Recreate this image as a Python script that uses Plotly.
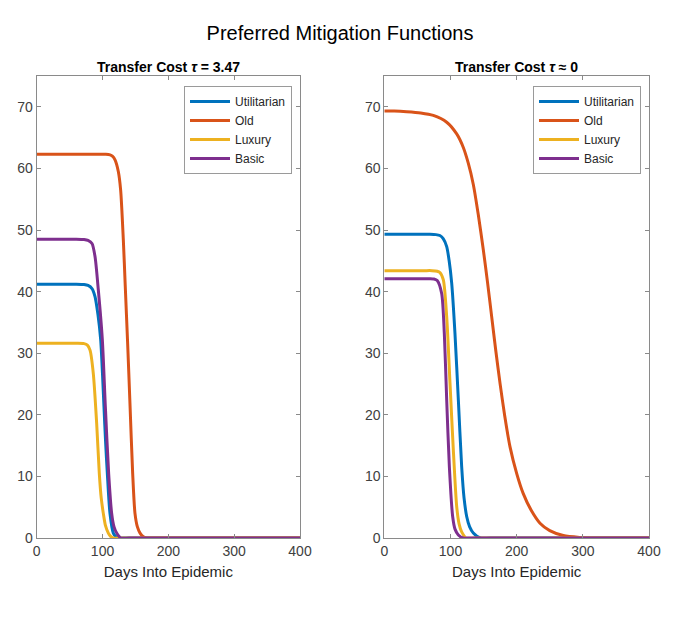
import plotly.graph_objects as go

# ---------------- data ----------------
series_names = ["Utilitarian", "Old", "Luxury", "Basic"]
series_colors = ["#0072BD", "#D95319", "#EDB120", "#7E2F8E"]

# Left panel: Transfer cost tau = 3.47
left_util_days = [0, 30, 60, 72, 78, 84, 88.6, 93, 97.2, 100, 102.2, 104.7, 107.3, 111.3, 116.4, 120, 124, 135, 200, 300, 400]
left_util_vals = [41.2, 41.2, 41.2, 41.15, 41.0, 40.5, 39.2, 36.3, 32.2, 26.5, 21.3, 15.5, 10.5, 4.0, 0.8, 0.25, 0, 0, 0, 0, 0]

left_old_days = [0, 40, 80, 105, 111.5, 115, 119, 124, 127.5, 131.6, 134.5, 138.2, 141.7, 145.8, 149.3, 153, 157, 162, 167, 180, 250, 320, 400]
left_old_vals = [62.3, 62.3, 62.3, 62.3, 62.2, 62.0, 61.4, 59.5, 56.5, 48.4, 41.0, 31.5, 21.8, 10.5, 4.0, 1.8, 0.8, 0.2, 0, 0, 0, 0, 0]

left_lux_days = [0, 30, 60, 72, 77, 81, 86, 91.1, 95.1, 98, 101.2, 104.5, 108.8, 112, 116, 128, 200, 300, 400]
left_lux_vals = [31.6, 31.6, 31.6, 31.55, 31.3, 30.5, 26.7, 18.6, 10.5, 6.5, 4.0, 2.0, 0.8, 0.3, 0, 0, 0, 0, 0]

left_basic_days = [0, 30, 60, 72, 78, 84, 88.6, 93.6, 99.7, 104.3, 109.3, 113.9, 117.5, 121.5, 128, 140, 200, 300, 400]
left_basic_vals = [48.5, 48.5, 48.5, 48.45, 48.3, 47.8, 45.7, 40.3, 32.2, 21.3, 10.5, 4.0, 1.8, 0.8, 0, 0, 0, 0, 0]

# Right panel: Transfer cost tau ~ 0
right_util_days = [0, 30, 55, 69, 78, 84, 89, 94.3, 98, 101.8, 106.8, 111.9, 116.9, 120.5, 124.5, 129, 134.5, 145, 160, 250, 330, 400]
right_util_vals = [49.3, 49.3, 49.3, 49.3, 49.25, 49.1, 48.6, 47.3, 45.0, 41.4, 33.2, 22.4, 11.6, 6.5, 3.5, 1.8, 0.8, 0, 0, 0, 0, 0]

right_old_days = [0, 15, 33.8, 55, 74, 94.3, 109.4, 119.4, 127, 134.5, 142, 149.6, 156, 162.3, 168.5, 174.9, 182, 190, 200, 210, 222, 235.3, 250, 270.5, 295, 320, 345, 370, 400]
right_old_vals = [69.3, 69.3, 69.2, 69.0, 68.6, 67.5, 65.6, 63.4, 60.8, 57.4, 52.5, 46.8, 41.5, 35.9, 30.4, 25.1, 19.8, 14.8, 10.5, 7.2, 4.5, 2.4, 1.2, 0.4, 0.1, 0, 0, 0, 0]

right_lux_days = [0, 30, 60, 72, 80, 84, 89.2, 94.3, 99.3, 104.3, 109.4, 113, 116.9, 124, 135, 200, 300, 400]
right_lux_vals = [43.4, 43.4, 43.4, 43.4, 43.3, 43.1, 41.9, 35.9, 25.1, 14.3, 5.1, 2.3, 1.0, 0, 0, 0, 0, 0]

right_basic_days = [0, 30, 55, 69, 75, 80, 86.7, 90.7, 94.3, 98.3, 103.3, 107, 111.9, 119, 130, 200, 300, 400]
right_basic_vals = [42.1, 42.1, 42.1, 42.1, 42.05, 41.8, 39.7, 33.2, 22.4, 11.6, 3.5, 1.4, 0.5, 0, 0, 0, 0, 0]

x_ticks = [0, 100, 200, 300, 400]
y_ticks = [0, 10, 20, 30, 40, 50, 60, 70]

main_title = "Preferred Mitigation Functions"
left_title = "<b>Transfer Cost <i>τ</i> = 3.47</b>"
right_title = "<b>Transfer Cost <i>τ</i> ≈ 0</b>"
x_title = "Days Into Epidemic"

# ---------------- figure ----------------
W, H = 680, 623
fig = go.Figure()

left_data = [(left_util_days, left_util_vals), (left_old_days, left_old_vals),
             (left_lux_days, left_lux_vals), (left_basic_days, left_basic_vals)]
right_data = [(right_util_days, right_util_vals), (right_old_days, right_old_vals),
              (right_lux_days, right_lux_vals), (right_basic_days, right_basic_vals)]

for (xs, ys), name, col in zip(left_data, series_names, series_colors):
    fig.add_trace(go.Scatter(x=xs, y=ys, mode="lines", name=name,
                             line=dict(color=col, width=3, shape="spline", smoothing=0.7),
                             xaxis="x", yaxis="y", legend="legend"))
for (xs, ys), name, col in zip(right_data, series_names, series_colors):
    fig.add_trace(go.Scatter(x=xs, y=ys, mode="lines", name=name,
                             line=dict(color=col, width=3, shape="spline", smoothing=0.7),
                             xaxis="x2", yaxis="y2", legend="legend2"))

axis_line = "#8a8a8a"
font_family = "Liberation Sans, Arial, sans-serif"
tick_font = dict(family=font_family, size=14, color="#404040")

xl0, xl1 = 36.7 / W, 300 / W
xr0, xr1 = 384.3 / W, 649 / W
yb, yt = 1 - 538 / H, 1 - 76 / H

common_x = dict(range=[0, 400], tickvals=x_ticks, ticks="inside", ticklen=4,
                tickcolor=axis_line, showline=True, linecolor=axis_line, linewidth=1,
                mirror="allticks", showgrid=False, zeroline=False, tickfont=tick_font,
                automargin=False,
                title=dict(text=x_title, font=dict(family=font_family, size=15, color="#262626"),
                           standoff=8))
common_y = dict(range=[0, 75], tickvals=y_ticks, ticks="inside", ticklen=4,
                tickcolor=axis_line, showline=True, linecolor=axis_line, linewidth=1,
                mirror="allticks", showgrid=False, zeroline=False, tickfont=tick_font,
                automargin=False)

legend_common = dict(bgcolor="white", bordercolor="#9a9a9a", borderwidth=1,
                     font=dict(family=font_family, size=12, color="#262626"),
                     xanchor="right", yanchor="top", itemwidth=40, tracegroupgap=0)

fig.update_layout(
    width=W, height=H,
    margin=dict(l=0, r=0, t=0, b=0, autoexpand=False),
    paper_bgcolor="white", plot_bgcolor="white",
    xaxis=dict(domain=[xl0, xl1], anchor="y", **common_x),
    yaxis=dict(domain=[yb, yt], anchor="x", **common_y),
    xaxis2=dict(domain=[xr0, xr1], anchor="y2", **common_x),
    yaxis2=dict(domain=[yb, yt], anchor="x2", **common_y),
    legend=dict(x=292 / W, y=1 - 86 / H, **legend_common),
    legend2=dict(x=641 / W, y=1 - 86 / H, **legend_common),
    showlegend=True,
    title=dict(text=main_title, x=0.5, xanchor="center", y=1 - 33 / H, yanchor="middle",
               font=dict(family=font_family, size=20, color="black")),
    annotations=[
        dict(text=left_title, xref="paper", yref="paper", x=(xl0 + xl1) / 2, y=1 - 67 / H,
             xanchor="center", yanchor="middle", showarrow=False,
             font=dict(family=font_family, size=14, color="black")),
        dict(text=right_title, xref="paper", yref="paper", x=(xr0 + xr1) / 2, y=1 - 67 / H,
             xanchor="center", yanchor="middle", showarrow=False,
             font=dict(family=font_family, size=14, color="black")),
    ],
)

fig.write_html("out.html")
